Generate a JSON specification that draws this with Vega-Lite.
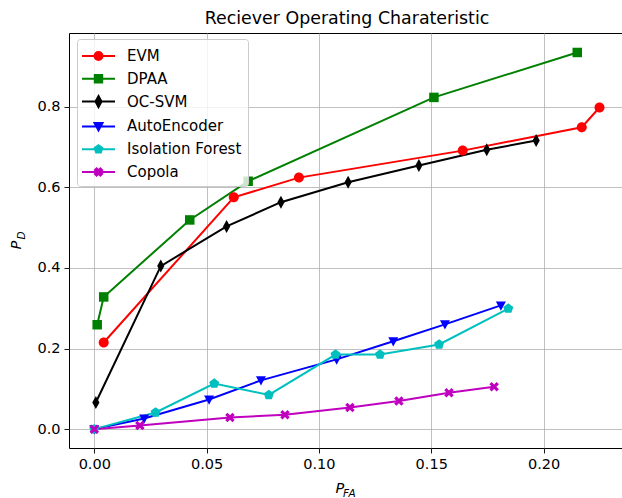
{
  "$schema": "https://vega.github.io/schema/vega-lite/v6.json",
  "width": 556,
  "height": 415,
  "autosize": {"type": "none"},
  "padding": {"left": 69, "top": 33, "right": 0, "bottom": 50},
  "title": {"text": "Reciever Operating Charateristic", "fontSize": 17.4, "fontWeight": "normal", "font": "DejaVu Sans", "color": "black", "offset": 6},
  "config": {
    "font": "DejaVu Sans",
    "view": {"stroke": "black", "strokeWidth": 1},
    "axis": {"labelFont": "DejaVu Sans", "labelFontSize": 14.5, "labelColor": "black", "titleFont": "DejaVu Sans", "titleColor": "black", "titleFontWeight": "normal", "titleFontStyle": "italic", "tickColor": "black", "tickWidth": 0.9, "tickSize": 5, "labelPadding": 4, "gridColor": "#b0b0b0", "gridWidth": 0.8, "gridOpacity": 1, "labelOverlap": false, "labelFlush": false},
    "point": {"filled": true, "size": 100, "opacity": 1}
  },
  "data": {"values": [
    {"model": "EVM", "i": 0, "pfa": 0.0042, "pd": 0.215},
    {"model": "EVM", "i": 1, "pfa": 0.0621, "pd": 0.575},
    {"model": "EVM", "i": 2, "pfa": 0.0911, "pd": 0.624},
    {"model": "EVM", "i": 3, "pfa": 0.164, "pd": 0.691},
    {"model": "EVM", "i": 4, "pfa": 0.217, "pd": 0.749},
    {"model": "EVM", "i": 5, "pfa": 0.2249, "pd": 0.798},
    {"model": "DPAA", "i": 0, "pfa": 0.0013, "pd": 0.259},
    {"model": "DPAA", "i": 1, "pfa": 0.0042, "pd": 0.328},
    {"model": "DPAA", "i": 2, "pfa": 0.0425, "pd": 0.519},
    {"model": "DPAA", "i": 3, "pfa": 0.0685, "pd": 0.615},
    {"model": "DPAA", "i": 4, "pfa": 0.1512, "pd": 0.823},
    {"model": "DPAA", "i": 5, "pfa": 0.215, "pd": 0.9345},
    {"model": "OC-SVM", "i": 0, "pfa": 0.0007, "pd": 0.066},
    {"model": "OC-SVM", "i": 1, "pfa": 0.0296, "pd": 0.4045},
    {"model": "OC-SVM", "i": 2, "pfa": 0.0589, "pd": 0.503},
    {"model": "OC-SVM", "i": 3, "pfa": 0.0831, "pd": 0.563},
    {"model": "OC-SVM", "i": 4, "pfa": 0.113, "pd": 0.6125},
    {"model": "OC-SVM", "i": 5, "pfa": 0.1445, "pd": 0.654},
    {"model": "OC-SVM", "i": 6, "pfa": 0.1747, "pd": 0.693},
    {"model": "OC-SVM", "i": 7, "pfa": 0.1967, "pd": 0.716},
    {"model": "AutoEncoder", "i": 0, "pfa": 0.0, "pd": 0.0},
    {"model": "AutoEncoder", "i": 1, "pfa": 0.0222, "pd": 0.0265},
    {"model": "AutoEncoder", "i": 2, "pfa": 0.0511, "pd": 0.0735},
    {"model": "AutoEncoder", "i": 3, "pfa": 0.0742, "pd": 0.121},
    {"model": "AutoEncoder", "i": 4, "pfa": 0.1079, "pd": 0.173},
    {"model": "AutoEncoder", "i": 5, "pfa": 0.1331, "pd": 0.218},
    {"model": "AutoEncoder", "i": 6, "pfa": 0.1561, "pd": 0.26},
    {"model": "AutoEncoder", "i": 7, "pfa": 0.181, "pd": 0.307},
    {"model": "Isolation Forest", "i": 0, "pfa": 0.0, "pd": 0.0},
    {"model": "Isolation Forest", "i": 1, "pfa": 0.0273, "pd": 0.0413},
    {"model": "Isolation Forest", "i": 2, "pfa": 0.0534, "pd": 0.113},
    {"model": "Isolation Forest", "i": 3, "pfa": 0.0777, "pd": 0.085},
    {"model": "Isolation Forest", "i": 4, "pfa": 0.1074, "pd": 0.185},
    {"model": "Isolation Forest", "i": 5, "pfa": 0.1272, "pd": 0.185},
    {"model": "Isolation Forest", "i": 6, "pfa": 0.1535, "pd": 0.21},
    {"model": "Isolation Forest", "i": 7, "pfa": 0.1843, "pd": 0.299},
    {"model": "Copola", "i": 0, "pfa": 0.0, "pd": 0.0},
    {"model": "Copola", "i": 1, "pfa": 0.0203, "pd": 0.009},
    {"model": "Copola", "i": 2, "pfa": 0.0604, "pd": 0.029},
    {"model": "Copola", "i": 3, "pfa": 0.0849, "pd": 0.0355},
    {"model": "Copola", "i": 4, "pfa": 0.1138, "pd": 0.0537},
    {"model": "Copola", "i": 5, "pfa": 0.1356, "pd": 0.07},
    {"model": "Copola", "i": 6, "pfa": 0.1579, "pd": 0.09},
    {"model": "Copola", "i": 7, "pfa": 0.178, "pd": 0.105}
  ]},
  "layer": [
    {
      "mark": {"type": "line", "strokeWidth": 2},
      "encoding": {
        "x": {"field": "pfa", "type": "quantitative", "scale": {"domain": [-0.01125, 0.23625], "nice": false, "zero": false},
          "axis": {"orient": "bottom", "values": [0, 0.05, 0.1, 0.15, 0.2], "format": ".2f", "grid": true, "domain": false, "title": "P", "titleFontSize": 14.5, "titleX": 266, "titleY": 44.3, "titleAlign": "left", "titleBaseline": "alphabetic"}},
        "y": {"field": "pd", "type": "quantitative", "scale": {"domain": [-0.0468, 0.9828], "nice": false, "zero": false},
          "axis": {"orient": "left", "values": [0, 0.2, 0.4, 0.6, 0.8], "format": ".1f", "grid": true, "domain": false, "title": "P", "titleFontSize": 14.5, "titleAngle": -90, "titleX": -49, "titleY": 216, "titleAlign": "left", "titleBaseline": "alphabetic"}},
        "color": {"field": "model", "type": "nominal",
          "scale": {"domain": ["EVM", "DPAA", "OC-SVM", "AutoEncoder", "Isolation Forest", "Copola"], "range": ["#ff0000", "#008000", "#000000", "#0000ff", "#00bfbf", "#bf00bf"]},
          "legend": {"title": null, "orient": "none", "legendX": 8, "legendY": 6, "padding": 6, "symbolSize": 400, "symbolStrokeWidth": 2, "symbolOffset": 4.5, "labelOffset": 17.5, "rowPadding": 3.8, "labelFontSize": 15, "labelFont": "DejaVu Sans", "labelColor": "black", "strokeColor": "#cccccc", "fillColor": "rgba(255,255,255,0.8)", "cornerRadius": 3,
            "encode": {"symbols": {"update": {
              "fill": {"signal": "scale('color', datum.value)"},
              "strokeWidth": {"value": 2},
              "opacity": {"value": 1},
              "shape": {"signal": "datum.label === 'EVM' ? 'M-1.65,0H1.65M-0.4,0A0.4,0.4 0 1,0 0.4,0A0.4,0.4 0 1,0 -0.4,0Z' : datum.label === 'DPAA' ? 'M-1.65,0H1.65M-0.37,-0.37H0.37V0.37H-0.37Z' : datum.label === 'OC-SVM' ? 'M-1.65,0H1.65M0,-0.55L0.3,0L0,0.55L-0.3,0Z' : datum.label === 'AutoEncoder' ? 'M-1.65,0H1.65M-0.4,-0.34H0.4L0,0.4Z' : datum.label === 'Isolation Forest' ? 'M-1.65,0H1.65M0,-0.4L0.38,-0.124L0.235,0.324L-0.235,0.324L-0.38,-0.124Z' : 'M-1.65,0H1.65M0,-0.17L0.19,-0.36L0.36,-0.19L0.17,0L0.36,0.19L0.19,0.36L0,0.17L-0.19,0.36L-0.36,0.19L-0.17,0L-0.36,-0.19L-0.19,-0.36Z'"}
            }}}
          }},
        "order": {"field": "i", "type": "quantitative"}
      }
    },
    {
      "transform": [{"filter": "datum.model === 'EVM'"}],
      "mark": {"type": "point", "shape": "M-1,0A1,1 0 1,0 1,0A1,1 0 1,0 -1,0Z"},
      "encoding": {
        "x": {"field": "pfa", "type": "quantitative",
          "axis": {"orient": "bottom", "labels": false, "ticks": false, "domain": false, "grid": false, "title": "FA", "titleFontSize": 10.5, "titleX": 273.5, "titleY": 48.7, "titleAlign": "left", "titleBaseline": "alphabetic"}},
        "y": {"field": "pd", "type": "quantitative",
          "axis": {"orient": "left", "labels": false, "ticks": false, "domain": false, "grid": false, "title": "D", "titleFontSize": 10.5, "titleAngle": -90, "titleX": -45, "titleY": 206, "titleAlign": "left", "titleBaseline": "alphabetic"}},
        "color": {"field": "model", "type": "nominal", "legend": null}
      }
    },
    {
      "transform": [{"filter": "datum.model === 'DPAA'"}],
      "mark": {"type": "point", "shape": "M-0.95,-0.95H0.95V0.95H-0.95Z"},
      "encoding": {
        "x": {"field": "pfa", "type": "quantitative", "axis": null},
        "y": {"field": "pd", "type": "quantitative", "axis": null},
        "color": {"field": "model", "type": "nominal", "legend": null}
      }
    },
    {
      "transform": [{"filter": "datum.model === 'OC-SVM'"}],
      "mark": {"type": "point", "shape": "M0,-1.3L0.72,0L0,1.3L-0.72,0Z"},
      "encoding": {
        "x": {"field": "pfa", "type": "quantitative", "axis": null},
        "y": {"field": "pd", "type": "quantitative", "axis": null},
        "color": {"field": "model", "type": "nominal", "legend": null}
      }
    },
    {
      "transform": [{"filter": "datum.model === 'AutoEncoder'"}],
      "mark": {"type": "point", "shape": "M-1,-0.8H1L0,1.05Z"},
      "encoding": {
        "x": {"field": "pfa", "type": "quantitative", "axis": null},
        "y": {"field": "pd", "type": "quantitative", "axis": null},
        "color": {"field": "model", "type": "nominal", "legend": null}
      }
    },
    {
      "transform": [{"filter": "datum.model === 'Isolation Forest'"}],
      "mark": {"type": "point", "shape": "M0,-1.05L1,-0.325L0.617,0.85L-0.617,0.85L-1,-0.325Z"},
      "encoding": {
        "x": {"field": "pfa", "type": "quantitative", "axis": null},
        "y": {"field": "pd", "type": "quantitative", "axis": null},
        "color": {"field": "model", "type": "nominal", "legend": null}
      }
    },
    {
      "transform": [{"filter": "datum.model === 'Copola'"}],
      "mark": {"type": "point", "shape": "M0,-0.45L0.5,-0.95L0.95,-0.5L0.45,0L0.95,0.5L0.5,0.95L0,0.45L-0.5,0.95L-0.95,0.5L-0.45,0L-0.95,-0.5L-0.5,-0.95Z"},
      "encoding": {
        "x": {"field": "pfa", "type": "quantitative", "axis": null},
        "y": {"field": "pd", "type": "quantitative", "axis": null},
        "color": {"field": "model", "type": "nominal", "legend": null}
      }
    }
  ],
  "resolve": {"axis": {"x": "independent", "y": "independent"}}
}
